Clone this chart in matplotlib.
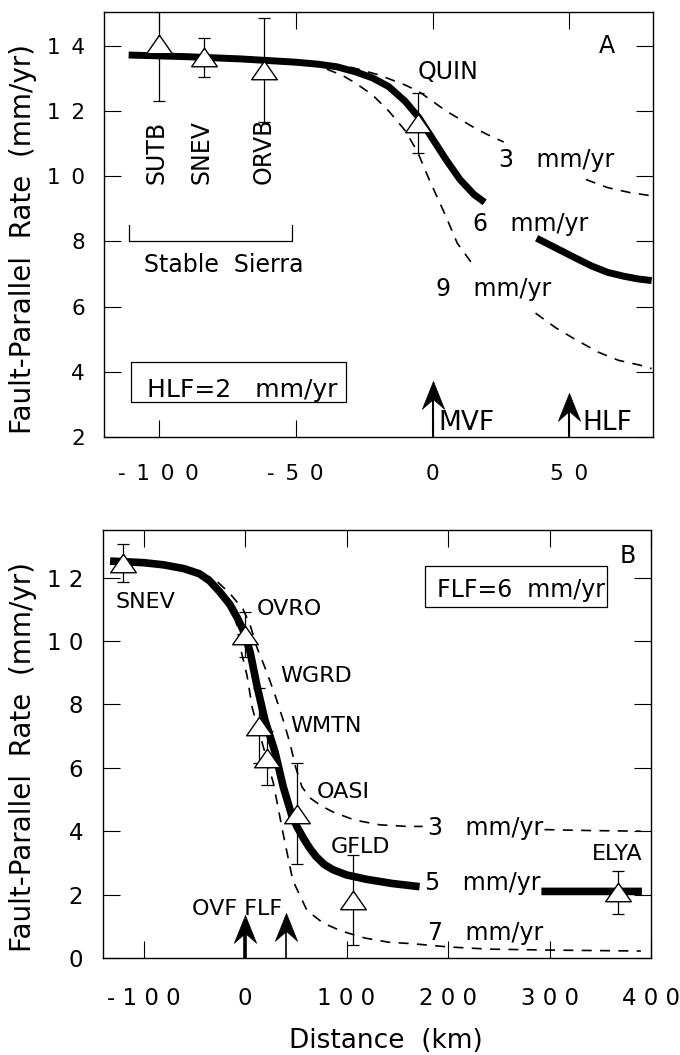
import numpy as np
import matplotlib
matplotlib.use("Agg")
import matplotlib.pyplot as plt
from matplotlib.patches import Rectangle

plt.rcParams['font.family'] = ['DejaVu Sans']
nan = np.nan

# ---------------- Panel A data ----------------
a_sites = ['SUTB', 'SNEV', 'ORVB', 'QUIN']
a_x = [-100.0, -83.6, -61.7, -5.5]
a_y = [14.05, 13.65, 13.25, 11.62]
a_err = [1.75, 0.6, 1.6, 0.92]

a6_x = [-111, -90, -70, -50, -42, -35, -28, -22, -16, -10, -5, 0, 5, 10, 15, 19, nan,
        38, 45, 52, 58, 64, 70, 75, 80]
a6_y = [13.72, 13.67, 13.6, 13.5, 13.44, 13.36, 13.2, 13.02, 12.75, 12.3, 11.8, 11.15, 10.5, 9.9, 9.45, 9.2, nan,
        8.1, 7.8, 7.5, 7.25, 7.05, 6.93, 6.85, 6.8]
a3_x = [-50, -40, -30, -20, -10, -5, 0, 5, 10, 15, 20, 26, nan, 56, 64, 72, 80]
a3_y = [13.5, 13.45, 13.35, 13.12, 12.8, 12.6, 12.3, 12.0, 11.75, 11.5, 11.28, 11.05, nan, 9.9, 9.65, 9.5, 9.4]
a9_x = [-45, -40, -33, -28, -22, -16, -10, -5.5, -1.5, 4.7, 9, 14.6, nan, 37.6, 45, 52, 60.6, 68, 76, 80]
a9_y = [13.45, 13.33, 13.1, 12.85, 12.5, 12.0, 11.4, 10.75, 9.95, 8.8, 7.95, 7.3, nan, 5.8, 5.35, 5.0, 4.6, 4.35, 4.2, 4.1]

a_xticks = [-100, -50, 0, 50]
a_xticklabels = ['-\u20021\u20020\u20020', '-\u20025\u20020', '0', '5\u20020']
a_yticks = [2, 4, 6, 8, 10, 12, 14]
a_yticklabels = ['2', '4', '6', '8', '1\u20020', '1\u20022', '1\u20024']

# ---------------- Panel B data ----------------
b_sites = ['SNEV', 'OVRO', 'WGRD', 'WMTN', 'OASI', 'GFLD', 'ELYA']
b_x = [-120, 0, 13.8, 21.6, 51, 106, 367]
b_y = [12.45, 10.2, 7.33, 6.3, 4.55, 1.83, 2.07]
b_err = [0.6, 0.7, 1.18, 0.85, 1.6, 1.43, 0.68]

b5_x = [-133, -100, -80, -60, -45, -35, -25, -15, -8, -2, 5, 11.6, 19.6, 29.5, 37.6, 46, 51, 58, 64,
        70, 78, 87, 100, 120, 145, 172, nan, 292, 391]
b5_y = [12.52, 12.47, 12.4, 12.28, 12.12, 11.9, 11.55, 11.15, 10.75, 10.35, 9.65, 8.6, 7.5, 6.5, 5.4,
        4.5, 4.15, 3.75, 3.45, 3.2, 2.95, 2.78, 2.62, 2.48, 2.35, 2.25, nan, 2.1, 2.1]
b3_x = [-60, -50, -30, -15, -2, 5, 11.6, 21.6, 30.5, 37.6, 44, 50, 56, 64, 75, 87, 108, 133, 160, 175,
        nan, 295, 340, 390]
b3_y = [12.3, 12.2, 11.95, 11.5, 11.0, 10.5, 9.8, 9.0, 8.2, 7.5, 6.8, 6.0, 5.4, 5.05, 4.8, 4.6, 4.35,
        4.2, 4.15, 4.15, nan, 4.05, 4.02, 4.0]
b7_x = [-60, -35, -24, -10, -4, 2, 7, 15, 22, 28, 37, 47, 61, 77, 95, 118, 141, 165, 200, 240, 300, 390]
b7_y = [12.3, 12.0, 11.45, 10.85, 9.7, 8.9, 7.9, 7.0, 6.2, 5.5, 4.0, 2.45, 1.5, 1.1, 0.85, 0.63, 0.5,
        0.45, 0.35, 0.28, 0.25, 0.22]

b_xticks = [-100, 0, 100, 200, 300, 400]
b_xticklabels = ['- 1 0 0', '0', '1 0 0', '2 0 0', '3 0 0', '4 0 0']
b_yticks = [0, 2, 4, 6, 8, 10, 12]
b_yticklabels = ['0', '2', '4', '6', '8', '1 0', '1 2']

tri = [(0, 0.72), (-1, -0.72), (1, -0.72), (0, 0.72)]
head = [(0, 0), (-0.4, -1), (0, -0.65), (0.4, -1), (0, 0)]
dash = (0, (6, 5))

fig = plt.figure(figsize=(6.8, 10.55), dpi=100)
axA = fig.add_axes([104 / 680, 1 - 437 / 1055, 549 / 680, 425 / 1055])
axB = fig.add_axes([103 / 680, 1 - 958 / 1055, 548 / 680, 428 / 1055])


def style(ax, xt, xtl, yt, ytl, fs, xpad, ypad):
    for s in ax.spines.values():
        s.set_linewidth(1.0)
    ax.set_xticks(xt)
    ax.set_xticklabels(xtl, fontsize=fs)
    ax.set_yticks(yt)
    ax.set_yticklabels(ytl, fontsize=fs)
    ax.tick_params(direction='in', length=12, width=0.8, top=True, right=True)
    ax.tick_params(axis='x', pad=xpad)
    ax.tick_params(axis='y', pad=ypad)


def arrow(ax, x, y0, tip, lw, hlen):
    # hlen: head length in data units (shaft stops inside the head)
    ax.plot([x, x], [y0, tip - hlen], color='k', lw=lw, solid_capstyle='butt',
            clip_on=False, zorder=6)
    ax.plot([x], [tip], ls='none', marker=head, ms=40, mfc='k', mec='k', mew=0.5,
            clip_on=False, zorder=6)


# ---------------- Panel A ----------------
ax = axA
ax.set_xlim(-120, 80.5)
ax.set_ylim(2, 15.04)
ax.plot(a6_x, a6_y, color='k', lw=5, solid_capstyle='butt', zorder=3)
ax.plot(a3_x, a3_y, color='k', lw=1.2, ls=dash, zorder=2)
ax.plot(a9_x, a9_y, color='k', lw=1.2, ls=dash, zorder=2)
ax.errorbar(a_x, a_y, yerr=a_err, fmt='none', ecolor='k', elinewidth=0.9,
            capsize=4.5, capthick=0.9, zorder=4)
ax.plot(a_x, a_y, ls='none', marker=tri, ms=18.5, mfc='white', mec='k', mew=1.0, zorder=5)
style(ax, a_xticks, a_xticklabels, a_yticks, a_yticklabels, 15.5, 19.5, 13.7)

rot_x = [-98.2, -81.75, -59.1]
for name, xx in zip(a_sites[:3], rot_x):
    ax.text(xx, 9.76, name, rotation=90, rotation_mode='anchor', ha='left',
            va='baseline', fontsize=17)
ax.text(-5.5, 12.99, 'QUIN', ha='left', va='baseline', fontsize=17)
ax.text(63.5, 13.79, 'A', ha='center', va='baseline', fontsize=17)
ax.text(24.1, 10.27, '3   mm/yr', ha='left', va='baseline', fontsize=17)
ax.text(14.6, 8.32, '6   mm/yr', ha='left', va='baseline', fontsize=17)
ax.text(1.1, 6.32, '9   mm/yr', ha='left', va='baseline', fontsize=17)

# Stable Sierra bracket
ax.plot([-111, -111, -51.3, -51.3], [8.52, 8.0, 8.0, 8.52], color='k', lw=0.9)
ax.text(-105.5, 7.05, 'Stable  Sierra', ha='left', va='baseline', fontsize=17)

ax.add_patch(Rectangle((-110.2, 3.08), 78.4, 1.23, fill=False, ec='k', lw=0.9))
ax.text(-104.4, 3.24, 'HLF=2   mm/yr', ha='left', va='baseline', fontsize=18)

arrow(ax, 0, 2.0, 3.73, 1.5, 0.55)
arrow(ax, 50, 2.0, 3.36, 1.5, 0.55)
ax.text(2.2, 2.2, 'MVF', ha='left', va='baseline', fontsize=19)
ax.text(54.7, 2.2, 'HLF', ha='left', va='baseline', fontsize=19)

# ---------------- Panel B ----------------
ax = axB
ax.set_xlim(-140, 400)
ax.set_ylim(0, 13.5)
ax.plot(b5_x, b5_y, color='k', lw=5.5, solid_capstyle='butt', zorder=3)
ax.plot(b3_x, b3_y, color='k', lw=1.2, ls=dash, zorder=2)
ax.plot(b7_x, b7_y, color='k', lw=1.2, ls=dash, zorder=2)
ax.errorbar(b_x, b_y, yerr=b_err, fmt='none', ecolor='k', elinewidth=0.9,
            capsize=4.5, capthick=0.9, zorder=4)
ax.plot(b_x, b_y, ls='none', marker=tri, ms=18.5, mfc='white', mec='k', mew=1.0, zorder=5)
style(ax, b_xticks, b_xticklabels, b_yticks, b_yticklabels, 16.5, 21, 14.4)

b_lab = [(-98.5, 11.05, 'center'), (11.8, 10.83, 'left'), (34.5, 8.69, 'left'),
         (44.3, 7.14, 'left'), (71, 5.05, 'left'), (84.6, 3.32, 'left'), (367, 3.1, 'center')]
for name, (lx, ly, ha) in zip(b_sites, b_lab):
    ax.text(lx, ly, name, ha=ha, va='baseline', fontsize=16)

ax.text(377, 12.47, 'B', ha='center', va='baseline', fontsize=17)
ax.add_patch(Rectangle((177, 11.08), 180, 1.27, fill=False, ec='k', lw=0.9))
ax.text(189, 11.4, 'FLF=6  mm/yr', ha='left', va='baseline', fontsize=17)

ax.text(180, 3.88, '3   mm/yr', ha='left', va='baseline', fontsize=17)
ax.text(177, 2.15, '5   mm/yr', ha='left', va='baseline', fontsize=17)
ax.text(180, 0.57, '7   mm/yr', ha='left', va='baseline', fontsize=17)

arrow(ax, 0, 0, 1.36, 2.6, 0.55)
arrow(ax, 40, 0, 1.42, 1.2, 0.55)
ax.text(-52.2, 1.36, 'OVF FLF', ha='left', va='baseline', fontsize=16)

# axis labels
ylab = 'Fault-Parallel  Rate  (mm/yr)'
fig.text(23 / 680, 1 - 239 / 1055, ylab, rotation=90, ha='center', va='center', fontsize=20)
fig.text(23 / 680, 1 - 757 / 1055, ylab, rotation=90, ha='center', va='center', fontsize=20)
fig.text(386 / 680, 1 - 1048 / 1055, 'Distance  (km)', ha='center', va='baseline', fontsize=19)

fig.savefig('out.png', dpi=100)
